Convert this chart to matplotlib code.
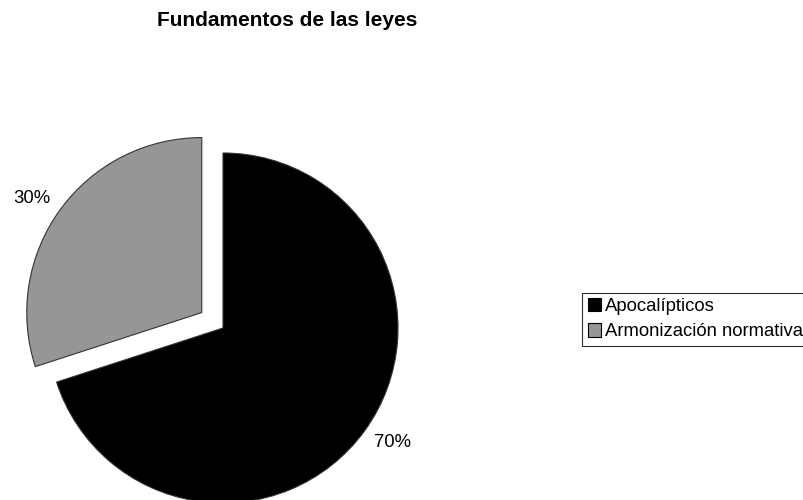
import numpy as np
import matplotlib.pyplot as plt
import matplotlib.patches as mpatches

plt.rcParams['font.family'] = ['Liberation Sans', 'DejaVu Sans']

# Share of each category in the legal foundations
categories = ['Apocalípticos', 'Armonización normativa']
shares = [70, 30]
pct_labels = ['70%', '30%']
slice_colors = ['#000000', '#969696']
explode = [0, 0.15]

fig = plt.figure(figsize=(8.04, 5.0), dpi=100)

# Axes sized so a unit radius is about 175 px, centred on the pie
R = 175
half = 1.3
size_px = 2 * half * R
cx, cy = 223, 500 - 328
ax = fig.add_axes([(cx - size_px / 2) / 804, (cy - size_px / 2) / 500,
                   size_px / 804, size_px / 500])

wedges, texts, autotexts = ax.pie(
    shares, colors=slice_colors, explode=explode, startangle=90,
    counterclock=False, autopct='%d%%', pctdistance=1.17,
    wedgeprops=dict(edgecolor='#333333', linewidth=0.8),
    textprops=dict(fontsize=13.3, color='black'))

# percentage labels sit just outside each slice, nudged a little counter-clockwise
for w, t, lab in zip(wedges, autotexts, pct_labels):
    ang = np.deg2rad((w.theta1 + w.theta2) / 2 + 2)
    x0, y0 = w.center
    t.set_position((x0 + 1.17 * w.r * np.cos(ang), y0 + 1.17 * w.r * np.sin(ang)))
    t.set_text(lab)

ax.set_xlim(-half, half)
ax.set_ylim(-half, half)
ax.set_aspect('equal')
ax.axis('off')

fig.text(287 / 804, 1 - 20 / 500, 'Fundamentos de las leyes',
         ha='center', va='center', fontsize=15, fontweight='bold')

handles = [mpatches.Patch(facecolor=c, edgecolor='black', linewidth=0.8)
           for c in slice_colors]
leg = fig.legend(handles, categories, loc='upper left',
                 bbox_to_anchor=(582.5 / 804, 1 - 292.5 / 500),
                 fontsize=13.3, frameon=True, fancybox=False,
                 handlelength=0.72, handleheight=0.72, handletextpad=0.2,
                 borderpad=0.3, labelspacing=0.45, borderaxespad=0)
leg.get_frame().set_edgecolor('black')
leg.get_frame().set_linewidth(0.8)

fig.savefig('out.png', dpi=100)
